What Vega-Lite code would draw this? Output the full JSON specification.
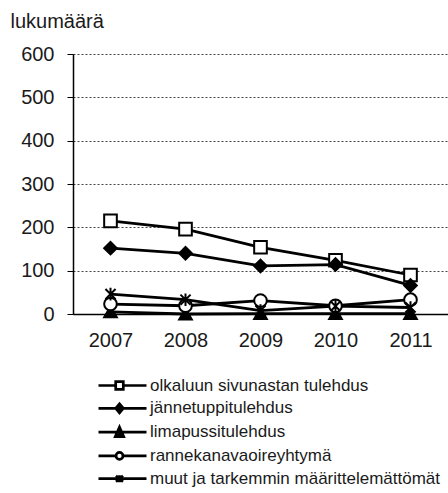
{
  "$schema": "https://vega.github.io/schema/vega-lite/v6.json",
  "width": 375,
  "height": 260,
  "autosize": "none",
  "padding": {"left": 73, "top": 54, "right": 0, "bottom": 179},
  "config": {"font": "Liberation Sans", "view": {"stroke": null}, "legend": {"symbolStrokeWidth": 2.7}},
  "data": {"values": [
    {"year": "2007", "series": "olkaluun sivunastan tulehdus", "value": 215},
    {"year": "2008", "series": "olkaluun sivunastan tulehdus", "value": 196},
    {"year": "2009", "series": "olkaluun sivunastan tulehdus", "value": 154},
    {"year": "2010", "series": "olkaluun sivunastan tulehdus", "value": 124},
    {"year": "2011", "series": "olkaluun sivunastan tulehdus", "value": 90},
    {"year": "2007", "series": "jännetuppitulehdus", "value": 152},
    {"year": "2008", "series": "jännetuppitulehdus", "value": 140},
    {"year": "2009", "series": "jännetuppitulehdus", "value": 111},
    {"year": "2010", "series": "jännetuppitulehdus", "value": 114},
    {"year": "2011", "series": "jännetuppitulehdus", "value": 66},
    {"year": "2007", "series": "limapussitulehdus", "value": 5},
    {"year": "2008", "series": "limapussitulehdus", "value": 0},
    {"year": "2009", "series": "limapussitulehdus", "value": 1},
    {"year": "2010", "series": "limapussitulehdus", "value": 1},
    {"year": "2011", "series": "limapussitulehdus", "value": 1},
    {"year": "2007", "series": "rannekanavaoireyhtymä", "value": 23},
    {"year": "2008", "series": "rannekanavaoireyhtymä", "value": 19},
    {"year": "2009", "series": "rannekanavaoireyhtymä", "value": 31},
    {"year": "2010", "series": "rannekanavaoireyhtymä", "value": 19},
    {"year": "2011", "series": "rannekanavaoireyhtymä", "value": 33},
    {"year": "2007", "series": "muut ja tarkemmin määrittelemättömät", "value": 46},
    {"year": "2008", "series": "muut ja tarkemmin määrittelemättömät", "value": 33},
    {"year": "2009", "series": "muut ja tarkemmin määrittelemättömät", "value": 8},
    {"year": "2010", "series": "muut ja tarkemmin määrittelemättömät", "value": 18},
    {"year": "2011", "series": "muut ja tarkemmin määrittelemättömät", "value": 15}
  ]},
  "encoding": {
    "x": {"field": "year", "type": "ordinal", "title": null,
      "scale": {"type": "point", "padding": 0.5},
      "axis": {"labelAngle": 0, "ticks": false, "grid": false, "domainColor": "black", "domainWidth": 1.5,
        "labelFontSize": 20, "labelColor": "#1a1a1a", "labelPadding": 16}},
    "y": {"field": "value", "type": "quantitative",
      "scale": {"domain": [0, 600]},
      "axis": {"values": [0, 100, 200, 300, 400, 500, 600], "tickSize": 6, "tickColor": "black", "domainColor": "black", "domainWidth": 1.5,
        "gridColor": "#444", "gridDash": [2, 2], "gridWidth": 1,
        "labelFontSize": 20, "labelColor": "#1a1a1a", "labelPadding": 13,
        "title": "lukumäärä", "titleAngle": 0, "titleAlign": "left", "titleBaseline": "middle",
        "titleX": -63, "titleY": -33, "titleFontSize": 20, "titleFontWeight": "normal", "titleColor": "#1a1a1a"}}
  },
  "layer": [
    {"mark": {"type": "line", "color": "black", "strokeWidth": 2.8},
     "encoding": {"detail": {"field": "series"}}},
    {"mark": {"type": "point", "stroke": "black", "strokeWidth": 2, "size": 160, "opacity": 1},
     "encoding": {
       "shape": {"field": "series", "legend": null,
         "scale": {"domain": ["olkaluun sivunastan tulehdus", "jännetuppitulehdus", "limapussitulehdus", "rannekanavaoireyhtymä", "muut ja tarkemmin määrittelemättömät"],
           "range": ["square", "diamond", "triangle-up", "circle", "M0,-1V1M-0.8,-0.8L0.8,0.8M-0.8,0.8L0.8,-0.8"]}},
       "fill": {"field": "series", "legend": null,
         "scale": {"domain": ["olkaluun sivunastan tulehdus", "jännetuppitulehdus", "limapussitulehdus", "rannekanavaoireyhtymä", "muut ja tarkemmin määrittelemättömät"],
           "range": ["white", "black", "black", "white", "white"]}}
     }},
    {"transform": [{"filter": "datum.value < 0"}],
     "mark": {"type": "point", "stroke": "black", "strokeWidth": 2.7, "opacity": 1},
     "encoding": {
       "shape": {"field": "series",
         "scale": {"domain": ["olkaluun sivunastan tulehdus", "jännetuppitulehdus", "limapussitulehdus", "rannekanavaoireyhtymä", "muut ja tarkemmin määrittelemättömät"],
           "range": [
             "M-2.4,0H-0.68M0.08,0H2.4M-0.68,-0.38H0.08V0.38H-0.68Z",
             "M-2.4,0H2.4M-0.68,0L-0.3,-0.45L0.08,0L-0.3,0.45Z",
             "M-2.4,0H2.4M-0.72,0.45L-0.3,-0.5L0.12,0.45Z",
             "M-2.4,0H-0.65M0.05,0H2.4M0.05,0A0.35,0.35,0,1,1,-0.65,0A0.35,0.35,0,1,1,0.05,0Z",
             "M-2.4,0H2.4M-0.65,-0.3L0.05,0.3M-0.65,0.3L0.05,-0.3M-0.3,-0.35V0.35"
           ]},
         "legend": {"title": null, "orient": "none", "legendX": 38, "legendY": 320, "padding": 0,
           "symbolSize": 400, "labelFontSize": 17, "labelColor": "#1a1a1a", "labelOffset": 16, "rowPadding": 1.8, "labelLimit": 400,
           "encode": {"symbols": {"update": {"stroke": {"value": "black"}, "strokeWidth": {"value": 2.7}}}}}},
       "fill": {"field": "series",
         "scale": {"domain": ["olkaluun sivunastan tulehdus", "jännetuppitulehdus", "limapussitulehdus", "rannekanavaoireyhtymä", "muut ja tarkemmin määrittelemättömät"],
           "range": ["white", "black", "black", "white", "white"]},
         "legend": {"title": null, "orient": "none", "legendX": 38, "legendY": 320, "padding": 0,
           "symbolSize": 400, "labelFontSize": 17, "labelColor": "#1a1a1a", "labelOffset": 16, "rowPadding": 1.8, "labelLimit": 400,
           "encode": {"symbols": {"update": {"stroke": {"value": "black"}, "strokeWidth": {"value": 2.7}}}}}}
     }}
  ],
  "resolve": {"scale": {"shape": "independent", "fill": "independent"}}
}
